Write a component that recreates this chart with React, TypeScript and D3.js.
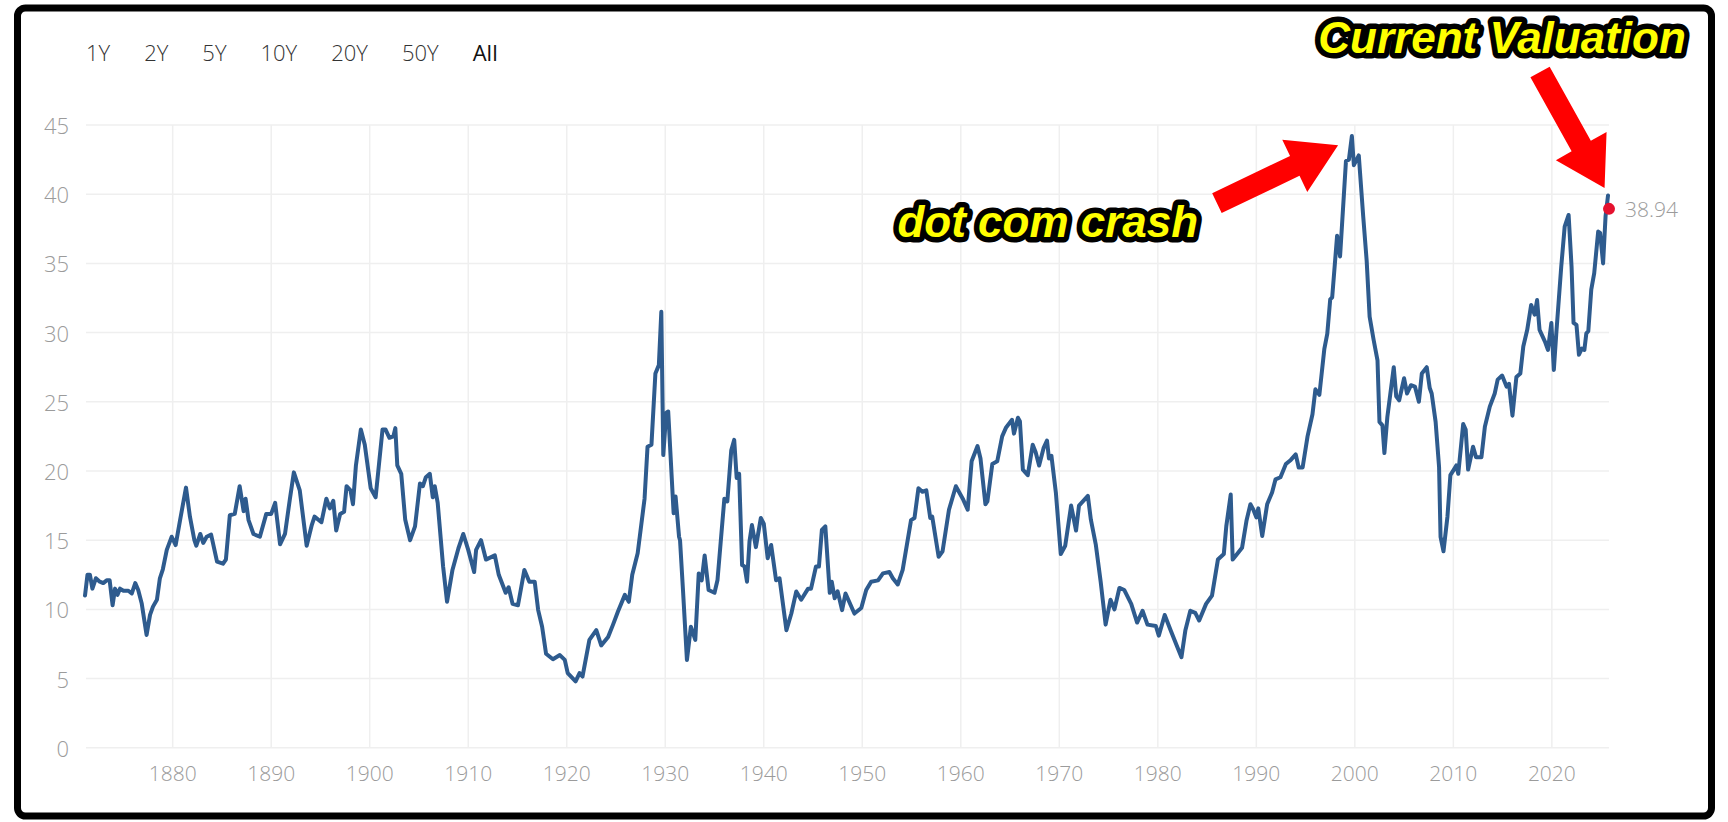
import React from "react";
import * as d3 from "d3";

// Shiller CAPE readings (year, value)
const YEARS = [
  1871.1, 1871.35, 1871.6, 1871.85, 1872.2, 1872.6, 1872.95, 1873.3, 1873.6, 1873.9,
  1874.15, 1874.4, 1874.65, 1875.0, 1875.5, 1875.85, 1876.2, 1876.5, 1876.85, 1877.35,
  1877.7, 1878.0, 1878.4, 1878.7, 1879.0, 1879.4, 1879.9, 1880.3, 1880.75, 1881.35,
  1881.75, 1882.2, 1882.4, 1882.8, 1883.1, 1883.45, 1883.9, 1884.5, 1885.1, 1885.4,
  1885.8, 1886.3, 1886.8, 1887.2, 1887.4, 1887.7, 1888.2, 1888.85, 1889.5, 1890.0,
  1890.4, 1890.9, 1891.4, 1891.9, 1892.3, 1892.9, 1893.6, 1894.1, 1894.4, 1895.1,
  1895.6, 1895.95, 1896.3, 1896.6, 1897.0, 1897.4, 1897.65, 1898.05, 1898.3, 1898.6,
  1899.1, 1899.5, 1900.1, 1900.6, 1900.95, 1901.3, 1901.6, 1902.0, 1902.4, 1902.6,
  1902.8, 1903.2, 1903.6, 1904.1, 1904.6, 1905.1, 1905.4, 1905.7, 1906.1, 1906.4,
  1906.6, 1906.9, 1907.45, 1907.85, 1908.4, 1909.0, 1909.5, 1910.0, 1910.6, 1910.8,
  1911.3, 1911.8, 1912.7, 1913.1, 1913.8, 1914.1, 1914.5, 1915.05, 1915.7, 1916.2,
  1916.75, 1917.1, 1917.5, 1917.9, 1918.6, 1919.3, 1919.8, 1920.1, 1920.9, 1921.3,
  1921.6, 1922.3, 1923.0, 1923.5, 1924.2, 1924.7, 1925.2, 1925.9, 1926.3, 1926.65,
  1927.2, 1927.9, 1928.2, 1928.6, 1929.0, 1929.35, 1929.6, 1929.8, 1930.1, 1930.3,
  1930.85, 1931.05, 1931.4, 1931.5, 1931.8, 1932.2, 1932.6, 1933.05, 1933.4, 1933.7,
  1934.0, 1934.4, 1935.0, 1935.3, 1936.0, 1936.3, 1936.7, 1937.0, 1937.25, 1937.5,
  1937.8, 1938.05, 1938.3, 1938.55, 1938.8, 1939.2, 1939.7, 1940.0, 1940.4, 1940.75,
  1941.25, 1941.6, 1942.3, 1942.8, 1943.3, 1943.8, 1944.5, 1944.8, 1945.3, 1945.6,
  1945.9, 1946.25, 1946.7, 1946.9, 1947.2, 1947.5, 1947.95, 1948.3, 1949.2, 1949.9,
  1950.4, 1950.9, 1951.6, 1952.1, 1952.75, 1953.1, 1953.6, 1954.1, 1954.95, 1955.3,
  1955.7, 1956.1, 1956.5, 1956.9, 1957.1, 1957.75, 1958.15, 1958.8, 1959.5, 1960.2,
  1960.7, 1961.1, 1961.7, 1962.0, 1962.5, 1962.7, 1963.2, 1963.7, 1964.2, 1964.6,
  1965.2, 1965.4, 1965.8, 1966.0, 1966.3, 1966.8, 1967.3, 1967.6, 1967.95, 1968.4,
  1968.75, 1968.95, 1969.2, 1969.65, 1970.15, 1970.6, 1971.2, 1971.7, 1972.0, 1972.9,
  1973.2, 1973.7, 1974.2, 1974.7, 1975.2, 1975.6, 1976.1, 1976.6, 1977.3, 1977.9,
  1978.45, 1978.95, 1979.8, 1980.1, 1980.7, 1981.3, 1982.0, 1982.4, 1982.8, 1983.3,
  1983.8, 1984.2, 1984.9, 1985.5, 1986.1, 1986.7, 1986.95, 1987.4, 1987.6, 1988.05,
  1988.55, 1989.0, 1989.4, 1989.7, 1990.0, 1990.2, 1990.6, 1991.1, 1991.6, 1991.95,
  1992.45, 1993.0, 1993.5, 1994.0, 1994.3, 1994.7, 1995.2, 1995.7, 1996.0, 1996.4,
  1996.9, 1997.2, 1997.5, 1997.7, 1998.2, 1998.5, 1999.1, 1999.4, 1999.7, 1999.9,
  2000.4, 2000.85, 2001.2, 2001.5, 2001.9, 2002.3, 2002.5, 2002.8, 2003.0, 2003.3,
  2003.95, 2004.2, 2004.5, 2005.0, 2005.3, 2005.7, 2006.1, 2006.5, 2006.8, 2007.3,
  2007.6, 2007.8, 2008.2, 2008.55, 2008.7, 2009.0, 2009.4, 2009.7, 2010.05, 2010.3,
  2010.5, 2011.0, 2011.25, 2011.5, 2012.0, 2012.3, 2012.85, 2013.2, 2013.7, 2014.2,
  2014.5, 2014.95, 2015.4, 2015.65, 2016.0, 2016.4, 2016.8, 2017.1, 2017.5, 2017.9,
  2018.25, 2018.5, 2018.75, 2019.3, 2019.6, 2019.95, 2020.2, 2020.45, 2020.7, 2020.95,
  2021.3, 2021.7, 2022.0, 2022.2, 2022.5, 2022.75, 2023.05, 2023.3, 2023.5, 2023.7,
  2024.0, 2024.3, 2024.7, 2024.9, 2025.2, 2025.45, 2025.7,
];

const CAPE = [
  11.0, 12.5, 12.5, 11.5, 12.25, 12.0, 11.9, 12.1, 12.1, 10.3,
  11.5, 11.05, 11.5, 11.35, 11.35, 11.15, 11.9, 11.4, 10.45, 8.15,
  9.6, 10.2, 10.7, 12.25, 12.9, 14.3, 15.25, 14.65, 16.45, 18.8,
  16.7, 15.0, 14.6, 15.45, 14.8, 15.25, 15.4, 13.45, 13.3, 13.6,
  16.8, 16.9, 18.9, 17.1, 18.0, 16.45, 15.45, 15.25, 16.9, 16.9,
  17.7, 14.7, 15.45, 18.0, 19.9, 18.6, 14.6, 16.05, 16.7, 16.3,
  18.0, 17.3, 17.85, 15.7, 16.9, 17.05, 18.9, 18.6, 17.6, 20.4,
  23.0, 21.9, 18.75, 18.1, 20.55, 23.0, 23.0, 22.4, 22.5, 23.1,
  20.4, 19.8, 16.5, 15.0, 16.0, 19.1, 18.9, 19.55, 19.8, 18.1,
  18.9, 17.7, 13.1, 10.55, 12.85, 14.4, 15.45, 14.3, 12.7, 14.3,
  15.0, 13.6, 13.9, 12.5, 11.2, 11.6, 10.4, 10.3, 12.85, 12.0,
  12.0, 9.95, 8.75, 6.8, 6.4, 6.7, 6.35, 5.4, 4.8, 5.4,
  5.15, 7.8, 8.5, 7.4, 8.0, 8.9, 9.85, 11.05, 10.55, 12.5,
  14.05, 18.0, 21.75, 21.9, 27.05, 27.65, 31.5, 21.15, 24.2, 24.3,
  16.95, 18.15, 15.25, 15.0, 11.4, 6.35, 8.75, 7.8, 12.6, 12.1,
  13.9, 11.4, 11.2, 12.1, 18.0, 17.8, 21.5, 22.25, 19.5, 19.8,
  13.2, 13.1, 12.0, 14.9, 16.1, 14.5, 16.6, 16.2, 13.7, 14.65,
  12.1, 12.25, 8.5, 9.7, 11.3, 10.7, 11.5, 11.5, 13.1, 13.1,
  15.75, 16.0, 11.2, 12.0, 10.8, 11.3, 9.95, 11.15, 9.7, 10.1,
  11.4, 12.0, 12.1, 12.6, 12.7, 12.25, 11.8, 12.85, 16.45, 16.6,
  18.75, 18.5, 18.6, 16.6, 16.7, 13.8, 14.2, 17.2, 18.9, 18.0,
  17.2, 20.7, 21.8, 20.9, 17.6, 17.8, 20.5, 20.7, 22.5, 23.15,
  23.7, 22.7, 23.85, 23.6, 20.1, 19.7, 21.9, 21.35, 20.4, 21.65,
  22.2, 20.9, 21.1, 18.45, 14.0, 14.6, 17.5, 15.7, 17.5, 18.2,
  16.5, 14.7, 12.0, 8.9, 10.7, 10.0, 11.55, 11.4, 10.4, 9.05,
  9.9, 8.9, 8.8, 8.1, 9.6, 8.5, 7.25, 6.55, 8.5, 9.9,
  9.75, 9.2, 10.4, 11.0, 13.6, 14.0, 16.0, 18.3, 13.6, 14.0,
  14.45, 16.4, 17.6, 17.2, 16.65, 17.3, 15.3, 17.6, 18.45, 19.4,
  19.55, 20.5, 20.8, 21.2, 20.25, 20.25, 22.5, 24.1, 25.9, 25.5,
  28.8, 29.9, 32.4, 32.55, 37.0, 35.5, 42.4, 42.5, 44.2, 42.1,
  42.8, 38.4, 35.2, 31.15, 29.5, 28.0, 23.55, 23.3, 21.3, 23.9,
  27.5, 25.4, 25.1, 26.7, 25.6, 26.2, 26.1, 25.0, 27.05, 27.5,
  26.0, 25.6, 23.55, 20.3, 15.25, 14.2, 16.7, 19.7, 20.1, 20.4,
  19.8, 23.4, 23.0, 20.1, 21.75, 21.0, 21.0, 23.2, 24.65, 25.6,
  26.6, 26.9, 26.1, 26.3, 24.0, 26.8, 27.05, 29.0, 30.2, 32.0,
  31.3, 32.35, 30.2, 29.35, 28.75, 30.7, 27.3, 29.95, 32.35, 34.75,
  37.65, 38.5, 34.75, 30.7, 30.55, 28.4, 28.85, 28.75, 29.95, 30.1,
  33.1, 34.3, 37.3, 37.2, 35.0, 38.4, 39.9,
];

const Y_TICKS = [0, 5, 10, 15, 20, 25, 30, 35, 40, 45];
const X_TICKS = [1880, 1890, 1900, 1910, 1920, 1930, 1940, 1950, 1960, 1970, 1980, 1990, 2000, 2010, 2020];
const RANGE_LABELS = ["1Y", "2Y", "5Y", "10Y", "20Y", "50Y", "All"];
const ACTIVE_RANGE = "All";
const CURRENT_YEAR = 2025.8;
const CURRENT_VALUE = 38.94;

// annotations anchored in data space (year, value)
const DOTCOM_ARROW = { from: [1986.0, 39.36], to: [1998.3, 43.54] };
const CURRENT_ARROW = { from: [2018.8, 48.83], to: [2025.35, 40.45] };
const DOTCOM_LABEL = { text: "dot com crash", at: [1984.1, 36.9] };
const CURRENT_LABEL = { text: "Current Valuation", at: [2033.6, 50.2] };

const W = 1728;
const H = 822;
const AXIS_FONT = "'Open Sans', 'Noto Sans', sans-serif";
const ANNOT_FONT = "'Liberation Sans', Arial, sans-serif";

function measure(text: string, font: string): number {
  const c = document.createElement("canvas");
  const ctx = c.getContext("2d");
  if (!ctx) return text.length * 12;
  ctx.font = font;
  return ctx.measureText(text).width;
}

function arrowPoints(x0: number, y0: number, x1: number, y1: number, shaft: number, headW: number, headL: number) {
  const dx = x1 - x0;
  const dy = y1 - y0;
  const len = Math.hypot(dx, dy);
  const ux = dx / len;
  const uy = dy / len;
  const px = -uy;
  const py = ux;
  const bx = x1 - ux * headL;
  const by = y1 - uy * headL;
  const pts = [
    [x0 + (px * shaft) / 2, y0 + (py * shaft) / 2],
    [bx + (px * shaft) / 2, by + (py * shaft) / 2],
    [bx + (px * headW) / 2, by + (py * headW) / 2],
    [x1, y1],
    [bx - (px * headW) / 2, by - (py * headW) / 2],
    [bx - (px * shaft) / 2, by - (py * shaft) / 2],
    [x0 - (px * shaft) / 2, y0 - (py * shaft) / 2],
  ];
  return pts.map((p) => p.join(",")).join(" ");
}

export default function App() {
  const x = d3.scaleLinear().domain([1871.2, 2025.8]).range([86, 1609]);
  const y = d3.scaleLinear().domain([0, 45]).range([747.8, 125]);

  const data: [number, number][] = YEARS.map((yr, i) => [yr, CAPE[i]]);
  const line = d3
    .line<[number, number]>()
    .x((d) => x(d[0]))
    .y((d) => y(d[1]))
    .curve(d3.curveLinear);

  // range buttons laid out sequentially
  let bx = 86;
  const buttons = RANGE_LABELS.map((lab) => {
    const w = measure(lab, `${lab === ACTIVE_RANGE ? 500 : 300} 22px ${AXIS_FONT}`);
    const item = { lab, x: bx };
    bx += w + 34;
    return item;
  });

  const [x0, xr] = x.range();
  const a1 = arrowPoints(
    x(DOTCOM_ARROW.from[0]), y(DOTCOM_ARROW.from[1]),
    x(DOTCOM_ARROW.to[0]), y(DOTCOM_ARROW.to[1]), 22, 58, 48
  );
  const a2 = arrowPoints(
    x(CURRENT_ARROW.from[0]), y(CURRENT_ARROW.from[1]),
    x(CURRENT_ARROW.to[0]), y(CURRENT_ARROW.to[1]), 22, 58, 48
  );

  return (
    <svg
      width={W}
      height={H}
      style={{ position: "fixed", left: 0, top: 0, background: "#fff" }}
    >
      <rect x={0} y={0} width={W} height={H} fill="#fff" />

      {/* range selector */}
      {buttons.map((b) => (
        <text
          key={b.lab}
          x={b.x}
          y={52}
          dominantBaseline="central"
          fontFamily={AXIS_FONT}
          fontSize={22}
          fontWeight={b.lab === ACTIVE_RANGE ? 500 : 300}
          fill={b.lab === ACTIVE_RANGE ? "#111" : "#333"}
        >
          {b.lab}
        </text>
      ))}

      {/* grid */}
      {Y_TICKS.map((t) => (
        <line key={"h" + t} x1={x0} x2={xr} y1={y(t)} y2={y(t)} stroke="#efefef" strokeWidth={1.5} />
      ))}
      {X_TICKS.map((t) => (
        <line key={"v" + t} x1={x(t)} x2={x(t)} y1={y(45)} y2={y(0)} stroke="#efefef" strokeWidth={1.5} />
      ))}

      {/* axis labels */}
      {Y_TICKS.map((t) => (
        <text
          key={"yl" + t}
          x={69}
          y={y(t)}
          textAnchor="end"
          dominantBaseline="central"
          fontFamily={AXIS_FONT}
          fontWeight={300}
          fontSize={22}
          fill="#9b9b9b"
        >
          {t}
        </text>
      ))}
      {X_TICKS.map((t) => (
        <text
          key={"xl" + t}
          x={x(t)}
          y={773}
          textAnchor="middle"
          dominantBaseline="central"
          fontFamily={AXIS_FONT}
          fontWeight={300}
          fontSize={21}
          fill="#9b9b9b"
        >
          {t}
        </text>
      ))}

      {/* series */}
      <path
        d={line(data) || ""}
        fill="none"
        stroke="#2e5b8e"
        strokeWidth={4}
        strokeLinejoin="round"
        strokeLinecap="round"
      />
      <circle cx={x(CURRENT_YEAR)} cy={y(CURRENT_VALUE)} r={6} fill="#e5112e" />
      <text
        x={x(CURRENT_YEAR) + 16}
        y={y(CURRENT_VALUE)}
        dominantBaseline="central"
        fontFamily={AXIS_FONT}
        fontWeight={300}
        fontSize={21}
        fill="#9b9b9b"
      >
        {CURRENT_VALUE.toFixed(2)}
      </text>

      {/* annotations */}
      <polygon points={a1} fill="#ff0000" />
      <polygon points={a2} fill="#ff0000" />
      <text
        x={x(DOTCOM_LABEL.at[0])}
        y={y(DOTCOM_LABEL.at[1])}
        textAnchor="end"
        fontFamily={ANNOT_FONT}
        fontWeight={700}
        fontStyle="italic"
        fontSize={44}
        fill="#ffff00"
        stroke="#000"
        strokeWidth={11}
        strokeLinejoin="round"
        paintOrder="stroke"
      >
        {DOTCOM_LABEL.text}
      </text>
      <text
        x={x(CURRENT_LABEL.at[0])}
        y={y(CURRENT_LABEL.at[1])}
        textAnchor="end"
        fontFamily={ANNOT_FONT}
        fontWeight={700}
        fontStyle="italic"
        fontSize={44}
        fill="#ffff00"
        stroke="#000"
        strokeWidth={11}
        strokeLinejoin="round"
        paintOrder="stroke"
      >
        {CURRENT_LABEL.text}
      </text>

      {/* outer frame */}
      <rect x={17.5} y={8} width={1694} height={808} rx={8} ry={8} fill="none" stroke="#000" strokeWidth={7} />
    </svg>
  );
}
